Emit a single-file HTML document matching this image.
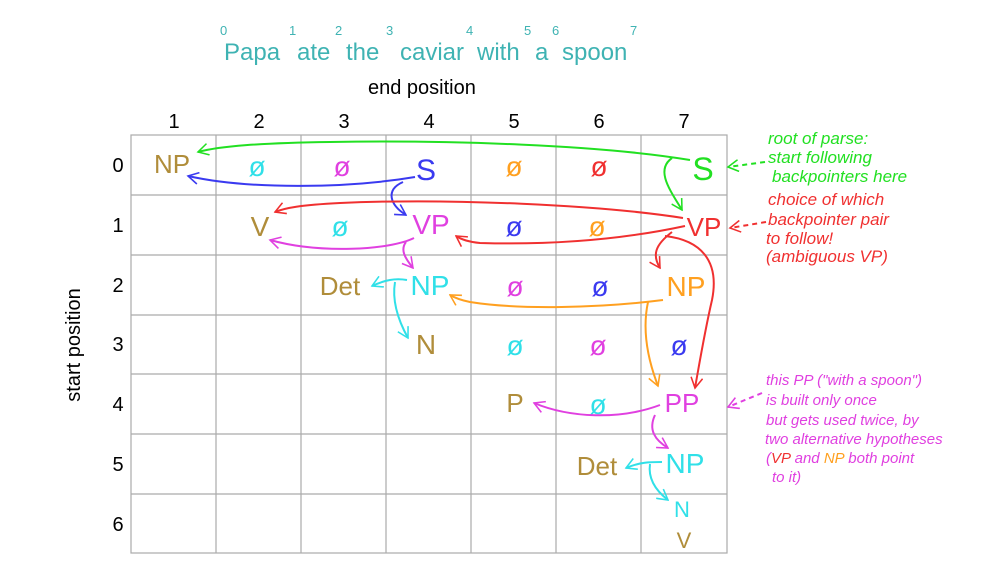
<!DOCTYPE html>
<html><head><meta charset="utf-8"><style>
body{margin:0;background:#fff;}
svg text{font-family:"Liberation Sans",sans-serif;}
</style></head><body>
<svg width="1000" height="561" viewBox="0 0 1000 561" xmlns="http://www.w3.org/2000/svg">
<defs>
<marker id="a" viewBox="0 0 10 10" refX="9" refY="5" markerWidth="13" markerHeight="13" orient="auto" markerUnits="userSpaceOnUse"><path d="M1,0.5 L9,5 L1,9.5" fill="none" stroke="context-stroke" stroke-width="1.2"/></marker>
</defs>
<g fill="#3fb3b3" font-size="24">
<text x="224" y="60">Papa</text><text x="297" y="60">ate</text><text x="346" y="60">the</text><text x="400" y="60">caviar</text><text x="477" y="60">with</text><text x="535" y="60">a</text><text x="562" y="60">spoon</text>
</g>
<g fill="#3fb3b3" font-size="13">
<text x="220" y="35">0</text><text x="289" y="35">1</text><text x="335" y="35">2</text><text x="386" y="35">3</text><text x="466" y="35">4</text><text x="524" y="35">5</text><text x="552" y="35">6</text><text x="630" y="35">7</text>
</g>
<text x="368" y="94" font-size="20" fill="#000">end position</text>
<g font-size="20" fill="#000" text-anchor="middle">
<text x="174" y="128">1</text><text x="259" y="128">2</text><text x="344" y="128">3</text><text x="429" y="128">4</text><text x="514" y="128">5</text><text x="599" y="128">6</text><text x="684" y="128">7</text>
<text x="118" y="172">0</text><text x="118" y="232">1</text><text x="118" y="292">2</text><text x="118" y="351">3</text><text x="118" y="411">4</text><text x="118" y="471">5</text><text x="118" y="531">6</text>
</g>
<text transform="translate(80,345) rotate(-90)" font-size="20" fill="#000" text-anchor="middle">start position</text>
<g stroke="#aaa" stroke-width="1.2" fill="none">
<rect x="131" y="135" width="596" height="418"/>
<path d="M216 135V553M301 135V553M386 135V553M471 135V553M556 135V553M641 135V553"/>
<path d="M131 195H727M131 255H727M131 315H727M131 374H727M131 434H727M131 494H727"/>
</g>
<g font-size="26" text-anchor="middle">
<text x="172" y="173" fill="#b08d3a">NP</text>
<text x="426" y="180" fill="#3a3af0" font-size="30">S</text>
<text x="703" y="180" fill="#22e022" font-size="32">S</text>
<text x="260" y="236" fill="#b08d3a" font-size="28">V</text>
<text x="431" y="234" fill="#e040e0" font-size="28">VP</text>
<text x="704" y="236" fill="#f03030">VP</text>
<text x="340" y="295" fill="#b08d3a">Det</text>
<text x="430" y="295" fill="#30e0e8" font-size="28">NP</text>
<text x="686" y="296" fill="#ffa020" font-size="28">NP</text>
<text x="426" y="354" fill="#b08d3a" font-size="28">N</text>
<text x="515" y="412" fill="#b08d3a">P</text>
<text x="682" y="412" fill="#e040e0">PP</text>
<text x="597" y="475" fill="#b08d3a">Det</text>
<text x="685" y="473" fill="#30e0e8" font-size="28">NP</text>
<text x="682" y="517" fill="#30e0e8" font-size="22">N</text>
<text x="684" y="548" fill="#b08d3a" font-size="22">V</text>
</g>
<g font-size="28" text-anchor="middle">
<text x="257" y="176" fill="#30e0e8">ø</text><text x="342" y="176" fill="#e040e0">ø</text><text x="514" y="176" fill="#ffa020">ø</text><text x="599" y="176" fill="#f03030">ø</text>
<text x="340" y="236" fill="#30e0e8">ø</text><text x="514" y="236" fill="#3a3af0">ø</text><text x="597" y="236" fill="#ffa020">ø</text>
<text x="515" y="296" fill="#e040e0">ø</text><text x="600" y="296" fill="#3a3af0">ø</text>
<text x="515" y="355" fill="#30e0e8">ø</text><text x="598" y="355" fill="#e040e0">ø</text><text x="679" y="355" fill="#3a3af0">ø</text>
<text x="598" y="414" fill="#30e0e8">ø</text>
</g>
<g fill="none" stroke-width="2" marker-end="url(#a)">
<path d="M690 160 C 600 145, 450 140, 330 142 C 260 143, 220 146, 198 152" stroke="#22e022"/>
<path d="M672 158 C 655 170, 670 190, 682 210" stroke="#22e022"/>
<path d="M415 177 C 350 188, 250 190, 188 176" stroke="#3a3af0"/>
<path d="M403 182 C 385 190, 390 205, 406 215" stroke="#3a3af0"/>
<path d="M683 218 C 600 205, 450 198, 340 203 C 300 205, 285 208, 275 212" stroke="#f03030"/>
<path d="M685 226 C 620 240, 550 245, 480 243 C 470 242, 462 240, 456 236" stroke="#f03030"/>
<path d="M672 232 C 655 245, 652 255, 660 268" stroke="#f03030"/>
<path d="M665 236 C 700 240, 720 260, 712 300 C 705 330, 700 360, 695 388" stroke="#f03030"/>
<path d="M414 238 C 390 250, 320 254, 270 240" stroke="#e040e0"/>
<path d="M406 242 C 400 250, 405 258, 413 268" stroke="#e040e0"/>
<path d="M407 280 C 395 278, 385 280, 372 286" stroke="#30e0e8"/>
<path d="M395 282 C 392 300, 398 320, 408 338" stroke="#30e0e8"/>
<path d="M663 300 C 600 308, 520 310, 470 302 C 460 300, 455 298, 450 295" stroke="#ffa020"/>
<path d="M648 302 C 642 330, 648 360, 658 386" stroke="#ffa020"/>
<path d="M660 405 C 620 420, 570 418, 534 403" stroke="#e040e0"/>
<path d="M655 415 C 648 430, 655 440, 668 448" stroke="#e040e0"/>
<path d="M662 462 C 650 462, 640 462, 626 468" stroke="#30e0e8"/>
<path d="M650 464 C 648 478, 655 490, 668 500" stroke="#30e0e8"/>
<path d="M765 162 L 728 167" stroke="#22e022" stroke-dasharray="5 4"/>
<path d="M766 222 L 730 228" stroke="#f03030" stroke-dasharray="5 4"/>
<path d="M762 393 L 728 407" stroke="#e040e0" stroke-dasharray="5 4"/>
</g>
<g font-size="17" font-style="italic">
<g fill="#22e022"><text x="768" y="144">root of parse:</text><text x="768" y="163">start following</text><text x="772" y="182">backpointers here</text></g>
<g fill="#f03030"><text x="768" y="205">choice of which</text><text x="768" y="225">backpointer pair</text><text x="766" y="244">to follow!</text><text x="766" y="262">(ambiguous VP)</text></g>
<g fill="#e040e0" font-size="15"><text x="766" y="385">this PP ("with a spoon")</text><text x="766" y="405">is built only once</text><text x="766" y="425">but gets used twice, by</text><text x="765" y="444">two alternative hypotheses</text><text x="766" y="463">(<tspan fill="#f03030">VP</tspan> and <tspan fill="#ffa020">NP</tspan> both point</text><text x="772" y="482">to it)</text></g>
</g>
</svg>
</body></html>
